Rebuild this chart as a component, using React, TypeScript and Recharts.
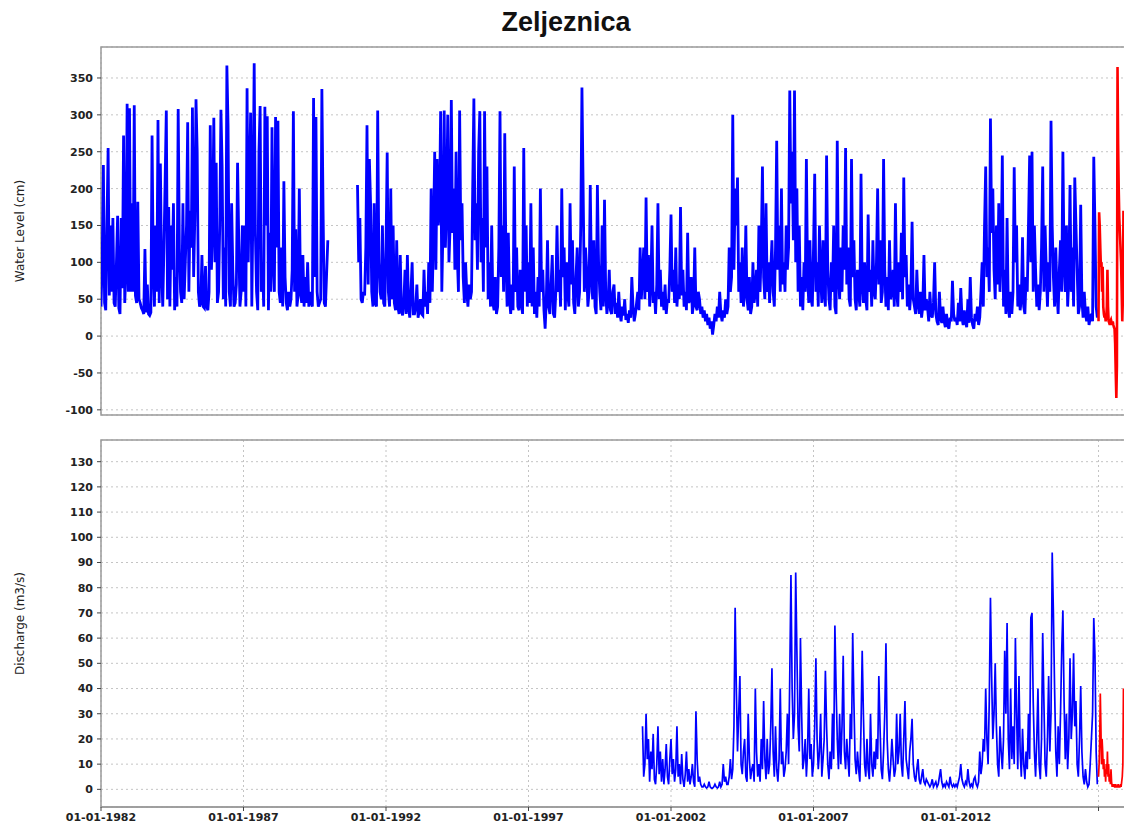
import React from 'react';
import { LineChart, Line, XAxis, YAxis, CartesianGrid, ReferenceArea } from 'recharts';

// time axis (decimal years)
const START_YEAR = 1982;
const END_YEAR = 2018.28;
const HALF_MONTH = 1 / 24;
const FORECAST_STEP = 1 / 48;
const YEAR_TICKS = [1982, 1987, 1992, 1997, 2002, 2007, 2012, 2017];
const LEVEL_TICKS = [-100, -50, 0, 50, 100, 150, 200, 250, 300, 350];
const DISCHARGE_TICKS = [0, 10, 20, 30, 40, 50, 60, 70, 80, 90, 100, 110, 120, 130];

// water level (cm), two values per month, one row per year from 1982
const levelObserved: (number | null)[][] = [
  /* 1982 */ [40, 100, 232, 45, 35, 150, 255, 55, 150, 60, 160, 45, 40, 100, 163, 38, 30, 160, 65, 272, 45, 90, 315, 60],
  /* 1983 */ [309, 60, 180, 60, 313, 55, 45, 182, 50, 45, 38, 35, 30, 118, 32, 70, 30, 28, 32, 272, 90, 40, 150, 60],
  /* 1984 */ [293, 45, 234, 90, 40, 120, 210, 306, 50, 175, 40, 150, 90, 180, 35, 80, 40, 308, 120, 60, 45, 180, 50, 100],
  /* 1985 */ [150, 290, 60, 170, 120, 310, 80, 160, 321, 250, 60, 40, 45, 110, 40, 38, 95, 40, 35, 60, 286, 90, 150, 296],
  /* 1986 */ [100, 235, 45, 60, 150, 307, 230, 50, 120, 40, 367, 285, 60, 40, 180, 90, 40, 45, 70, 235, 130, 40, 60, 150],
  /* 1987 */ [60, 150, 40, 336, 100, 210, 303, 40, 180, 370, 140, 60, 35, 250, 312, 60, 100, 40, 311, 150, 298, 35, 140, 60],
  /* 1988 */ [283, 100, 60, 297, 120, 292, 60, 45, 120, 40, 210, 80, 45, 35, 60, 40, 50, 90, 305, 60, 145, 40, 55, 200],
  /* 1989 */ [60, 45, 110, 40, 80, 45, 100, 40, 60, 45, 40, 323, 80, 297, 60, 40, 45, 50, 335, 170, 45, 40, 85, 130],
  /* 1990 */ [null, null, null, null, null, null, null, null, null, null, null, null, null, null, null, null, null, null, null, null, null, null, null, null],
  /* 1991 */ [205, 100, 160, 50, 45, 60, 55, 120, 286, 70, 240, 180, 60, 40, 180, 45, 40, 306, 100, 60, 50, 150, 45, 40],
  /* 1992 */ [120, 249, 60, 40, 200, 50, 150, 45, 35, 130, 40, 30, 110, 35, 28, 45, 90, 30, 110, 40, 25, 60, 100, 30],
  /* 1993 */ [30, 40, 70, 25, 35, 50, 30, 28, 90, 40, 60, 30, 100, 45, 200, 60, 140, 250, 90, 240, 150, 170, 305, 60],
  /* 1994 */ [150, 306, 120, 180, 300, 100, 150, 320, 140, 200, 90, 250, 110, 60, 306, 130, 180, 80, 45, 100, 60, 40, 70, 50],
  /* 1995 */ [60, 200, 322, 130, 180, 90, 250, 305, 100, 160, 60, 305, 120, 230, 50, 100, 40, 150, 45, 35, 80, 30, 40, 120],
  /* 1996 */ [305, 80, 150, 60, 275, 100, 40, 140, 50, 30, 70, 35, 230, 60, 120, 40, 35, 90, 45, 30, 255, 60, 150, 40],
  /* 1997 */ [100, 45, 180, 40, 120, 30, 60, 25, 80, 40, 200, 60, 90, 35, 10, 50, 130, 40, 30, 70, 110, 30, 25, 60],
  /* 1998 */ [150, 60, 90, 40, 200, 80, 120, 35, 100, 60, 40, 180, 70, 130, 45, 30, 80, 120, 40, 60, 150, 337, 200, 60],
  /* 1999 */ [120, 90, 40, 60, 205, 80, 50, 130, 40, 30, 205, 100, 60, 35, 150, 40, 185, 60, 30, 45, 90, 35, 30, 60],
  /* 2000 */ [70, 30, 45, 25, 60, 30, 20, 40, 28, 50, 22, 30, 18, 35, 25, 80, 40, 20, 30, 45, 60, 35, 120, 50],
  /* 2001 */ [80, 120, 50, 188, 60, 110, 40, 70, 150, 45, 60, 30, 70, 180, 50, 90, 40, 60, 35, 70, 30, 50, 45, 90],
  /* 2002 */ [165, 60, 90, 45, 120, 40, 70, 50, 175, 55, 90, 40, 60, 35, 140, 45, 50, 80, 30, 45, 120, 40, 35, 60],
  /* 2003 */ [50, 30, 40, 25, 35, 20, 30, 15, 25, 10, 20, 2, 15, 30, 20, 40, 25, 60, 30, 20, 35, 25, 50, 30],
  /* 2004 */ [40, 120, 60, 80, 300, 90, 200, 150, 215, 60, 100, 45, 120, 40, 60, 150, 50, 35, 80, 30, 40, 100, 45, 60],
  /* 2005 */ [90, 40, 150, 60, 120, 230, 80, 50, 180, 60, 100, 45, 90, 130, 60, 40, 120, 265, 90, 150, 60, 200, 70, 100],
  /* 2006 */ [60, 150, 90, 120, 333, 180, 250, 130, 333, 100, 200, 60, 150, 40, 80, 35, 100, 60, 240, 80, 45, 130, 50, 40],
  /* 2007 */ [120, 220, 60, 100, 40, 150, 80, 45, 130, 60, 40, 245, 90, 50, 35, 100, 60, 150, 40, 30, 265, 80, 50, 120],
  /* 2008 */ [60, 150, 90, 255, 70, 120, 50, 40, 240, 80, 130, 50, 35, 90, 60, 40, 220, 70, 45, 100, 50, 35, 165, 60],
  /* 2009 */ [90, 40, 130, 60, 50, 100, 200, 70, 130, 45, 60, 240, 90, 40, 80, 35, 130, 50, 60, 90, 40, 180, 60, 40],
  /* 2010 */ [100, 60, 140, 50, 215, 80, 110, 40, 70, 35, 60, 155, 50, 40, 30, 90, 45, 30, 60, 25, 40, 110, 35, 50],
  /* 2011 */ [40, 20, 60, 30, 25, 45, 100, 30, 20, 15, 60, 25, 18, 40, 20, 12, 30, 15, 10, 25, 20, 75, 30, 20],
  /* 2012 */ [25, 15, 45, 20, 65, 25, 15, 35, 20, 12, 50, 18, 80, 25, 15, 10, 30, 20, 40, 15, 25, 60, 100, 40],
  /* 2013 */ [150, 230, 80, 120, 60, 295, 140, 200, 90, 50, 150, 70, 180, 60, 110, 245, 40, 90, 30, 160, 40, 25, 60, 30],
  /* 2014 */ [60, 229, 100, 150, 40, 70, 35, 50, 134, 40, 30, 80, 60, 150, 245, 100, 250, 60, 150, 90, 40, 70, 35, 60],
  /* 2015 */ [120, 230, 60, 150, 90, 40, 100, 60, 292, 150, 80, 40, 120, 60, 30, 90, 130, 60, 250, 100, 60, 150, 40, 80],
  /* 2016 */ [205, 60, 120, 40, 215, 150, 90, 30, 40, 178, 50, 25, 60, 30, 20, 40, 15, 25, 30, 20, 243, 150, 40, 25],
];

// water level 2017 (red), four values per month
const levelRecent = [
  20, 168, 150, 120, 94, 100, 60, 94, 40, 30, 25, 30, 20, 25, 40, 90, 40, 20, 18, 15, 20, 22,
  18, 15, 20, 15, 12, 10, -10, -50, -84, -40, 365, 261, 200, 160, 140, 120, 100, 60, 20, 50, 170, 150,
];

// discharge (m3/s), two values per month, one row per year from 2001
const DISCHARGE_START = 2001;
const dischargeObserved: number[][] = [
  /* 2001 */ [25, 5, 10, 30, 12, 20, 3, 15, 8, 22, 4, 2, 10, 25, 6, 15, 3, 12, 2, 8, 18, 5, 2, 12],
  /* 2002 */ [20, 6, 12, 3, 8, 25, 5, 10, 2, 14, 4, 1, 6, 15, 3, 8, 2, 5, 10, 3, 1, 31, 12, 3],
  /* 2003 */ [5, 2, 1, 1, 2, 1, 0.5, 1, 3, 1, 0.5, 0.5, 1, 2, 1, 0.5, 1, 3, 1, 2, 10, 3, 5, 2],
  /* 2004 */ [2, 5, 12, 4, 8, 25, 72, 40, 15, 30, 45, 10, 6, 15, 20, 5, 3, 30, 12, 4, 8, 10, 3, 40],
  /* 2005 */ [15, 5, 10, 3, 20, 8, 35, 12, 4, 20, 6, 10, 25, 48, 15, 5, 25, 8, 3, 12, 40, 10, 15, 5],
  /* 2006 */ [8, 15, 30, 10, 45, 85, 40, 20, 30, 86, 55, 25, 15, 60, 30, 8, 12, 20, 5, 15, 40, 12, 18, 5],
  /* 2007 */ [10, 25, 52, 20, 8, 15, 30, 5, 12, 20, 47, 25, 10, 4, 15, 8, 30, 12, 65, 40, 20, 8, 30, 10],
  /* 2008 */ [25, 53, 15, 8, 20, 12, 5, 30, 20, 62, 35, 12, 6, 15, 8, 3, 25, 55, 30, 10, 5, 20, 8, 4],
  /* 2009 */ [30, 10, 5, 15, 8, 20, 12, 45, 25, 8, 4, 15, 30, 58, 20, 8, 3, 10, 20, 12, 5, 8, 30, 10],
  /* 2010 */ [15, 30, 10, 5, 20, 35, 12, 8, 4, 15, 20, 28, 10, 5, 3, 8, 12, 4, 2, 5, 8, 3, 2, 4],
  /* 2011 */ [3, 2, 1, 2, 4, 1, 2, 3, 1, 2, 5, 8, 3, 1, 2, 1, 3, 2, 1, 5, 2, 1, 2, 1],
  /* 2012 */ [2, 1, 3, 5, 10, 4, 2, 1, 3, 2, 8, 3, 1, 2, 1, 4, 5, 2, 1, 3, 15, 6, 10, 20],
  /* 2013 */ [15, 40, 20, 10, 35, 76, 45, 20, 30, 50, 25, 10, 5, 25, 15, 8, 20, 55, 30, 66, 20, 8, 40, 12],
  /* 2014 */ [25, 10, 60, 30, 8, 45, 15, 5, 24, 10, 4, 15, 8, 30, 12, 68, 70, 35, 15, 5, 20, 40, 10, 4],
  /* 2015 */ [20, 62, 35, 10, 5, 20, 45, 15, 30, 94, 70, 40, 15, 5, 25, 10, 30, 55, 71, 35, 12, 30, 8, 20],
  /* 2016 */ [52, 20, 30, 54, 25, 35, 10, 5, 20, 41, 15, 5, 2, 8, 3, 1, 2, 10, 20, 30, 68, 53, 15, 2],
];

// discharge 2017 (red), four values per month
const dischargeRecent = [
  5, 10, 20, 38, 25, 10, 20, 15, 8, 12, 5, 8, 3, 10, 6, 15, 5, 10, 3, 6, 2, 8,
  3, 1, 2, 1, 2, 1, 1, 2, 1, 1, 1, 2, 1, 1, 1, 2, 1, 3, 5, 10, 40, 25,
];

const toSeries = (values: (number | null)[], start: number, step: number) =>
  values.map((v, i) => ({ t: start + i * step, v }));

const levelBlue = toSeries(levelObserved.flat(), START_YEAR, HALF_MONTH);
const levelRed = toSeries(levelRecent, 2017, FORECAST_STEP);
const dischargeBlue = toSeries(dischargeObserved.flat(), DISCHARGE_START, HALF_MONTH);
const dischargeRed = toSeries(dischargeRecent, 2017, FORECAST_STEP);

const FONT = 'DejaVu Sans, Tahoma, sans-serif';
const tickStyle = { fontSize: 11, fontWeight: 'bold', fill: '#222', fontFamily: FONT };
const labelStyle = { textAnchor: 'middle' as const, fontSize: 12, fill: '#222', fontFamily: FONT };

const App: React.FC = () => {
  return (
    <div style={{ position: 'absolute', left: 0, top: 0, width: 1124, height: 830, overflow: 'hidden', background: '#fff' }}>
      <div
        style={{
          position: 'absolute', left: 4, top: 9, width: 1124, textAlign: 'center',
          fontFamily: 'Liberation Sans, Arial, sans-serif', fontWeight: 'bold', fontSize: 27, lineHeight: 1, color: '#111',
        }}
      >
        Zeljeznica
      </div>

      {/* Water level panel */}
      <div style={{ position: 'absolute', left: 0, top: 0 }}>
        <LineChart width={1140} height={420} margin={{ top: 47, right: 5, bottom: 5, left: 0 }}>
          <CartesianGrid stroke="#c4c4c4" strokeDasharray="2 3" />
          <XAxis
            type="number" dataKey="t" domain={[START_YEAR, END_YEAR]} ticks={YEAR_TICKS}
            allowDataOverflow height={0} tick={false} tickLine={false} axisLine={false}
          />
          <YAxis
            type="number" domain={[-107, 392]} ticks={LEVEL_TICKS} allowDataOverflow width={101}
            tick={tickStyle} tickSize={4} tickMargin={4} tickLine={{ stroke: '#444' }} axisLine={false}
            label={{ value: 'Water Level (cm)', angle: -90, position: 'insideLeft', offset: 20, style: labelStyle }}
          />
          <ReferenceArea x1={START_YEAR} x2={END_YEAR} y1={-107} y2={392} fill="none" stroke="#9a9a9a" strokeWidth={1.5} />
          <Line data={levelBlue} dataKey="v" stroke="#0000ff" strokeWidth={2.8} dot={false} isAnimationActive={false} connectNulls={false} />
          <Line data={levelRed} dataKey="v" stroke="#ff0000" strokeWidth={2.6} dot={false} isAnimationActive={false} />
        </LineChart>
      </div>

      {/* Discharge panel */}
      <div style={{ position: 'absolute', left: 0, top: 420 }}>
        <LineChart width={1140} height={410} margin={{ top: 20, right: 5, bottom: 0, left: 0 }}>
          <CartesianGrid stroke="#c4c4c4" strokeDasharray="2 3" />
          <XAxis
            type="number" dataKey="t" domain={[START_YEAR, END_YEAR]} ticks={YEAR_TICKS} allowDataOverflow height={23}
            tick={tickStyle} tickSize={4} tickMargin={2} tickLine={{ stroke: '#444' }} axisLine={{ stroke: '#9a9a9a', strokeWidth: 1.5 }}
            tickFormatter={(y: number) => (y === 2017 ? '' : `01-01-${y}`)}
          />
          <YAxis
            type="number" domain={[-7, 138.6]} ticks={DISCHARGE_TICKS} allowDataOverflow width={101}
            tick={tickStyle} tickSize={4} tickMargin={4} tickLine={{ stroke: '#444' }} axisLine={false}
            label={{ value: 'Discharge (m3/s)', angle: -90, position: 'insideLeft', offset: 20, style: labelStyle }}
          />
          <ReferenceArea x1={START_YEAR} x2={END_YEAR} y1={-7} y2={138.6} fill="none" stroke="#9a9a9a" strokeWidth={1.5} />
          <Line data={dischargeBlue} dataKey="v" stroke="#0000ff" strokeWidth={1.7} dot={false} isAnimationActive={false} />
          <Line data={dischargeRed} dataKey="v" stroke="#ff0000" strokeWidth={1.7} dot={false} isAnimationActive={false} />
        </LineChart>
      </div>
    </div>
  );
};

export default App;
